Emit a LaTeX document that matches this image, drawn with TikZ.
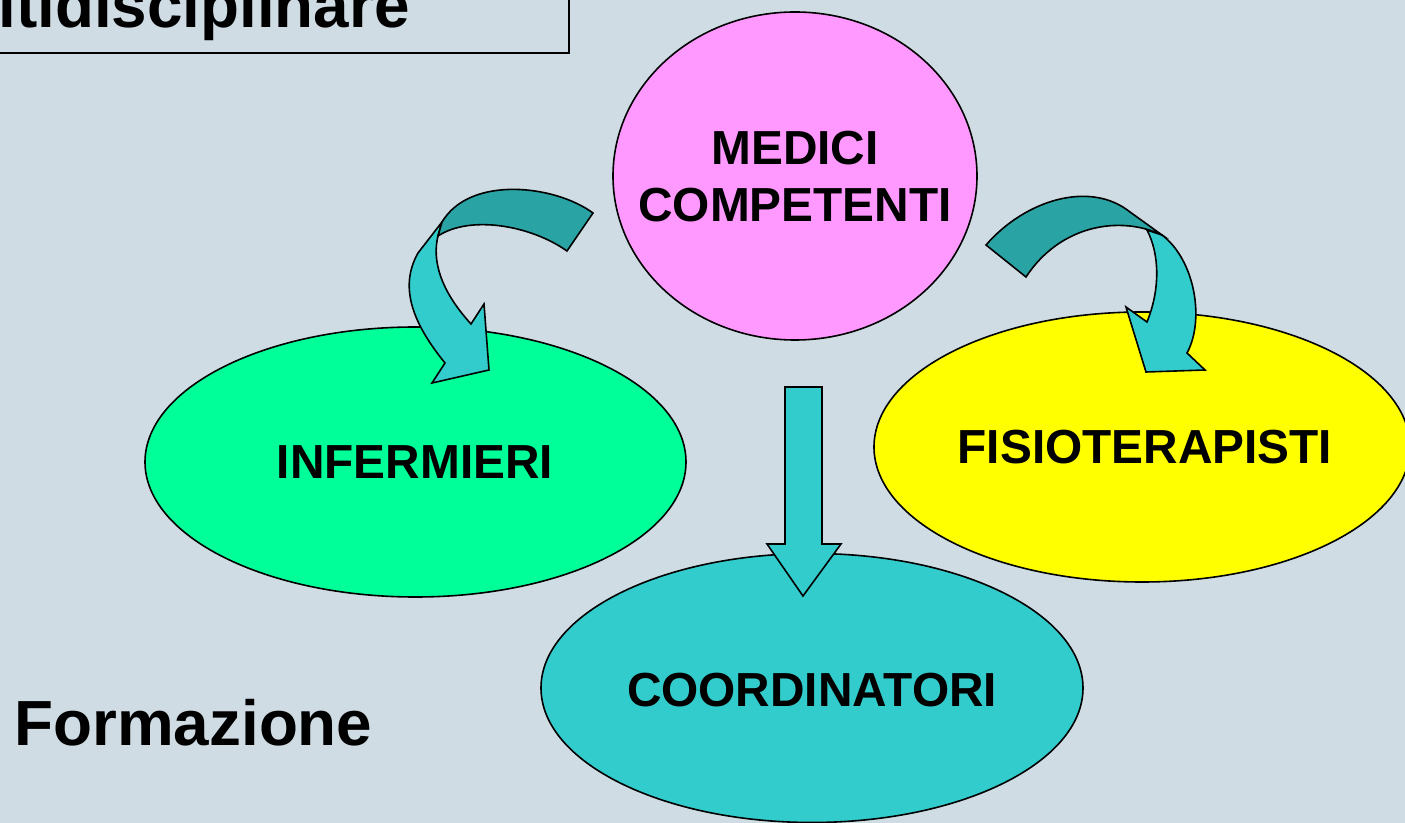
\documentclass[tikz,border=0pt]{standalone}
\usepackage{fontspec}
\setmainfont{Liberation Sans}
\usetikzlibrary{positioning, shapes.geometric}
\definecolor{bgblue}{HTML}{D0DCE4}
\definecolor{medpink}{HTML}{FF99FF}
\definecolor{infgreen}{HTML}{00FF99}
\definecolor{fisyellow}{HTML}{FFFF00}
\definecolor{cooteal}{HTML}{33CCCC}
\definecolor{darkteal}{HTML}{29A3A3}

\begin{document}
\begin{tikzpicture}[x=0.5pt, y=-0.5pt,
  group/.style={ellipse, draw, line width=0.8pt, inner sep=0pt},
  grouptext/.style={inner sep=0pt, align=center,
    font=\fontsize{23.9}{28.5}\selectfont\bfseries},
  bigtext/.style={inner sep=0pt, font=\fontsize{31.9}{38}\selectfont\bfseries},
  arrowfront/.style={draw, line width=0.8pt, fill=cooteal},
  arrowback/.style={draw, line width=0.8pt, fill=darkteal}]
\useasboundingbox (0,0) rectangle (1405,823);
\fill[bgblue] (0,0) rectangle (1405,823);
\clip (0,0) rectangle (1405,823);

% title box
\draw[line width=1pt] (-10,-20) rectangle (569,53);
\node(titolo)[bigtext, anchor=base west] at (-2,28) {ltidisciplinare};
\node(formazione)[bigtext, anchor=base west] at (14,746) {Formazione};

% groups
\node(medici)[group, fill=medpink, minimum width=182pt, minimum height=164pt] at (795,176) {};
\node(infermieri)[group, fill=infgreen, minimum width=270.5pt, minimum height=135pt] at (415.5,462) {};
\node(fisio)[group, fill=fisyellow, minimum width=268pt, minimum height=135pt] at (1142,447) {};
\node(coord)[group, fill=cooteal, minimum width=271pt, minimum height=134.5pt] at (812,688) {};

\node(medicilbl)[grouptext] at (795,177) {MEDICI\\COMPETENTI};
\node(inflbl)[grouptext] at (415,462) {INFERMIERI};
\node(fisiolbl)[grouptext] at (1145,447) {FISIOTERAPISTI};
\node(coordlbl)[grouptext] at (812,690) {COORDINATORI};

% left curved arrow
\draw[arrowfront] (442,222) -- (418,253) .. controls (400,285) and (410,320) .. (445,363)
  -- (432,383) -- (489,370) -- (484,304) -- (471,324)
  .. controls (440,290) and (432,260) .. (438,236) -- cycle;
\draw[arrowback] (593,213) .. controls (555,185) and (470,175) .. (442,222) -- (438,236)
  .. controls (470,215) and (530,225) .. (567,251) -- cycle;

% right curved arrow
\draw[arrowfront] (1162,235) .. controls (1195,260) and (1205,320) .. (1187,353)
  -- (1205,370) -- (1146,372) -- (1126,307) -- (1147,322)
  .. controls (1160,290) and (1160,255) .. (1147,230) -- cycle;
\draw[arrowback] (986,245) .. controls (1025,200) and (1090,180) .. (1130,212) -- (1162,235)
  .. controls (1120,215) and (1060,225) .. (1026,277) -- cycle;

% straight arrow
\draw[arrowfront] (785,387) -- (822,387) -- (822,544) -- (841,544) -- (803,596)
  -- (767,544) -- (785,544) -- cycle;
\end{tikzpicture}
\end{document}
